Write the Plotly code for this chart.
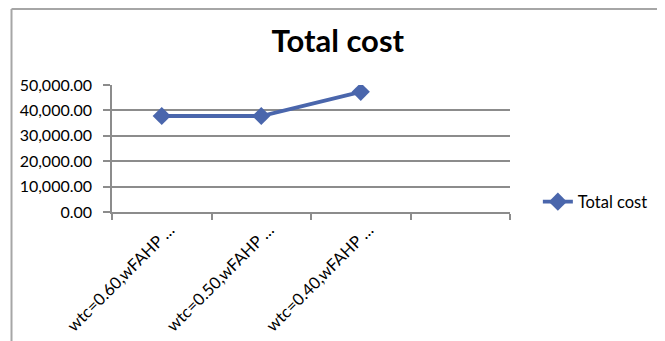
import plotly.graph_objects as go

categories = ["wtc=0.60,wFAHP …", "wtc=0.50,wFAHP …", "wtc=0.40,wFAHP …"]
total_cost = [37800, 37800, 47300]
y_ticks = [0, 10000, 20000, 30000, 40000, 50000]

pos = [i + 0.5 for i in range(len(categories))]
font_family = "Lato, 'Noto Sans', sans-serif"

fig = go.Figure()
fig.add_trace(go.Scatter(
    x=pos, y=total_cost, mode="lines+markers", name="Total cost",
    line=dict(color="#4A66AC", width=3.8),
    marker=dict(symbol="diamond", size=14, color="#4A66AC"),
))

fig.update_layout(
    width=665, height=341,
    margin=dict(l=102, r=163, t=77, b=137),
    paper_bgcolor="white", plot_bgcolor="white",
    font=dict(family=font_family, size=16, color="#000000"),
    title=dict(text="<b>Total cost</b>", x=0.496, xref="container", xanchor="center",
               y=0.903, yref="container", yanchor="middle",
               font=dict(size=31, family=font_family, color="#000000")),
    showlegend=True,
    legend=dict(x=1.07, xanchor="left", y=0.079, yanchor="middle",
                font=dict(size=16.5, family=font_family), bgcolor="rgba(0,0,0,0)"),
    xaxis=dict(range=[0, 4], tickvals=pos, ticktext=categories, tickangle=-45,
               ticks="", showgrid=False, zeroline=False, showline=True,
               linecolor="#8C8C8C", linewidth=1.5, ticklabelshift=8,
               minor=dict(tickvals=[0, 1, 2, 3, 4], ticks="outside", ticklen=6,
                          tickcolor="#8C8C8C", tickwidth=1.5, showgrid=False),
               tickfont=dict(size=16.5), fixedrange=True),
    yaxis=dict(range=[0, 50000], tickvals=y_ticks, tickformat=",.2f",
               ticks="outside", ticklen=7, tickcolor="#8C8C8C", tickwidth=1.5,
               ticklabelstandoff=8,
               showgrid=True, gridcolor="#8C8C8C", gridwidth=1.5,
               zeroline=False, showline=True, linecolor="#8C8C8C", linewidth=1.5,
               tickfont=dict(size=16), fixedrange=True),
)

# chart-area frame (top and left edges visible)
fig.add_shape(type="line", xref="paper", yref="paper", x0=-0.2525, x1=1.5,
              y0=1.598, y1=1.598, line=dict(color="#A6A6A6", width=2))
fig.add_shape(type="line", xref="paper", yref="paper", x0=-0.2525, x1=-0.2525,
              y0=1.598, y1=-1.2, line=dict(color="#A6A6A6", width=2))

fig.write_html("out.html")
